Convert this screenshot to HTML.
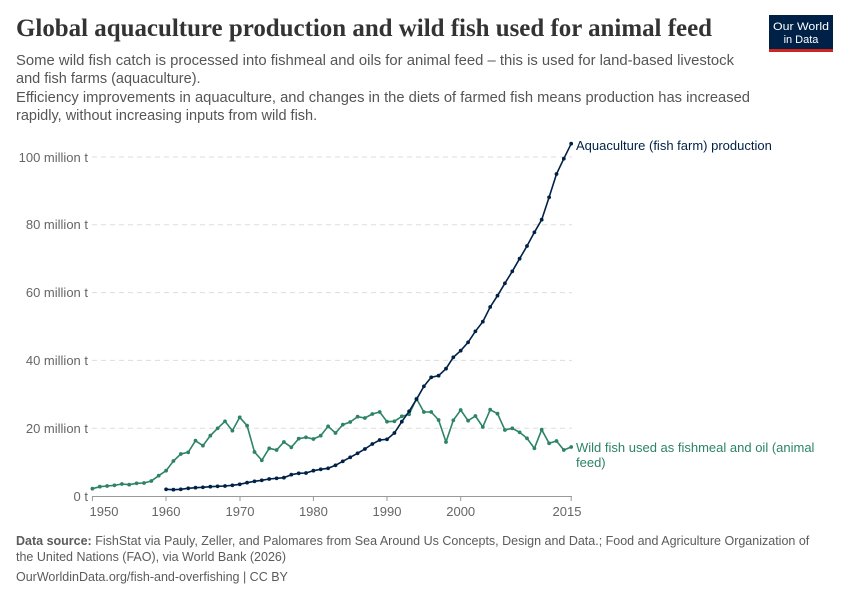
<!DOCTYPE html>
<html><head><meta charset="utf-8"><style>body{margin:0;background:#fff}svg{display:block}</style></head><body>
<svg width="850" height="600" viewBox="0 0 850 600" xmlns="http://www.w3.org/2000/svg" font-family="Liberation Sans, sans-serif">
<defs>
<marker id="mg" viewBox="0 0 4 4" refX="2" refY="2" markerWidth="4" markerHeight="4" markerUnits="userSpaceOnUse"><circle cx="2" cy="2" r="1.9" fill="#2c8465"/></marker>
<marker id="mb" viewBox="0 0 4 4" refX="2" refY="2" markerWidth="4" markerHeight="4" markerUnits="userSpaceOnUse"><circle cx="2" cy="2" r="1.9" fill="#002147"/></marker>
</defs>
<text x="16" y="36" font-family="Liberation Serif, serif" font-weight="bold" font-size="25" fill="#333" textLength="696" lengthAdjust="spacingAndGlyphs">Global aquaculture production and wild fish used for animal feed</text>
<rect x="769" y="15" width="64" height="35" fill="#002147"/>
<rect x="769" y="49" width="64" height="3" fill="#ce261e"/>
<text x="801" y="30" font-size="11" fill="#fff" text-anchor="middle" textLength="56" lengthAdjust="spacingAndGlyphs">Our World</text>
<text x="801" y="43" font-size="11" fill="#fff" text-anchor="middle">in Data</text>
<g font-size="14.5" fill="#555">
<text x="16" y="65" textLength="718" lengthAdjust="spacingAndGlyphs">Some wild fish catch is processed into fishmeal and oils for animal feed – this is used for land-based livestock</text>
<text x="16" y="83">and fish farms (aquaculture).</text>
<text x="16" y="102" textLength="734" lengthAdjust="spacingAndGlyphs">Efficiency improvements in aquaculture, and changes in the diets of farmed fish means production has increased</text>
<text x="16" y="120">rapidly, without increasing inputs from wild fish.</text>
</g>
<g stroke="#ddd" stroke-dasharray="5,4" stroke-width="1">
<line x1="92" x2="572" y1="428.2" y2="428.2"/><line x1="92" x2="572" y1="360.4" y2="360.4"/>
<line x1="92" x2="572" y1="292.6" y2="292.6"/><line x1="92" x2="572" y1="224.8" y2="224.8"/>
<line x1="92" x2="572" y1="157" y2="157"/>
</g>
<line x1="92" x2="572" y1="496.5" y2="496.5" stroke="#999"/>
<g stroke="#999"><line x1="92.4" x2="92.4" y1="496" y2="501"/><line x1="166" x2="166" y1="496" y2="501"/><line x1="240" x2="240" y1="496" y2="501"/><line x1="313.4" x2="313.4" y1="496" y2="501"/><line x1="387" x2="387" y1="496" y2="501"/><line x1="460.7" x2="460.7" y1="496" y2="501"/><line x1="571.2" x2="571.2" y1="496" y2="501"/></g>
<g font-size="13" fill="#666" text-anchor="end">
<text x="88" y="501">0 t</text><text x="88" y="433">20 million t</text><text x="88" y="365">40 million t</text><text x="88" y="297">60 million t</text><text x="88" y="229">80 million t</text><text x="88" y="162">100 million t</text>
</g>
<g font-size="13" fill="#666" text-anchor="middle">
<text x="104" y="516">1950</text><text x="166" y="516">1960</text><text x="240" y="516">1970</text><text x="313.4" y="516">1980</text><text x="387" y="516">1990</text><text x="460.7" y="516">2000</text><text x="567" y="516">2015</text>
</g>
<polyline fill="none" stroke="#2c8465" stroke-width="1.6" marker-start="url(#mg)" marker-mid="url(#mg)" marker-end="url(#mg)" points="92.4,488.7 99.8,486.7 107.1,486 114.5,485.3 121.9,484 129.2,484.7 136.6,483.3 144,483 151.3,481 158.7,475.7 166.1,470.7 173.4,461 180.8,454 188.2,452.3 195.5,440.7 202.9,445.7 210.3,435.7 217.6,428.3 225,421.3 232.4,430.7 239.7,417.3 247.1,425.7 254.5,452 261.8,460.3 269.2,448.3 276.6,450 283.9,442 291.3,447.3 298.7,438.7 306,437.3 313.4,439 320.7,435.7 328.1,426.3 335.5,433 342.8,424.7 350.2,422 357.6,416.7 364.9,418 372.3,414 379.7,412 387,421.7 394.4,421.3 401.8,416.3 409.1,414.3 416.5,398.7 423.9,412 431.2,412 438.6,420 446,442 453.3,420.3 460.7,410 468.1,420.7 475.4,416 482.8,427 490.2,409.7 497.5,413.7 504.9,430 512.3,428.3 519.6,432.3 527,438.3 534.4,448.3 541.7,429.7 549.1,443.3 556.5,441 563.8,450 571.2,447"/>
<polyline fill="none" stroke="#002147" stroke-width="1.6" marker-start="url(#mb)" marker-mid="url(#mb)" marker-end="url(#mb)" points="166.1,489.3 173.4,489.7 180.8,489.3 188.2,488.3 195.5,487.7 202.9,487.3 210.3,486.7 217.6,486.3 225,486 232.4,485.3 239.7,484.3 247.1,482.7 254.5,481.3 261.8,480.3 269.2,479 276.6,478.3 283.9,477.7 291.3,474.7 298.7,473.3 306,473 313.4,470.7 320.7,469.3 328.1,468.3 335.5,465.3 342.8,461.3 350.2,457.3 357.6,453.3 364.9,449 372.3,444 379.7,440 387,439.3 394.4,433 401.8,421.7 409.1,411.3 416.5,399.3 423.9,386.3 431.2,377.3 438.6,375.7 446,368.7 453.3,357.3 460.7,350.7 468.1,342.3 475.4,331.3 482.8,321.7 490.2,307 497.5,295.7 504.9,283.3 512.3,271.3 519.6,258.7 527,246 534.4,232.3 541.7,219.7 549.1,197.3 556.5,174 563.8,158.7 571.2,143.7"/>
<text x="576" y="150" font-size="13" fill="#002147">Aquaculture (fish farm) production</text>
<text x="576" y="452" font-size="13" fill="#2c8465">Wild fish used as fishmeal and oil (animal</text>
<text x="576" y="467" font-size="13" fill="#2c8465">feed)</text>
<g font-size="12.5" fill="#5b5b5b">
<text x="16" y="545"><tspan font-weight="bold">Data source:</tspan> FishStat via Pauly, Zeller, and Palomares from Sea Around Us Concepts, Design and Data.; Food and Agriculture Organization of</text>
<text x="16" y="561">the United Nations (FAO), via World Bank (2026)</text>
<text x="16" y="581">OurWorldinData.org/fish-and-overfishing | CC BY</text>
</g>
</svg>
</body></html>
